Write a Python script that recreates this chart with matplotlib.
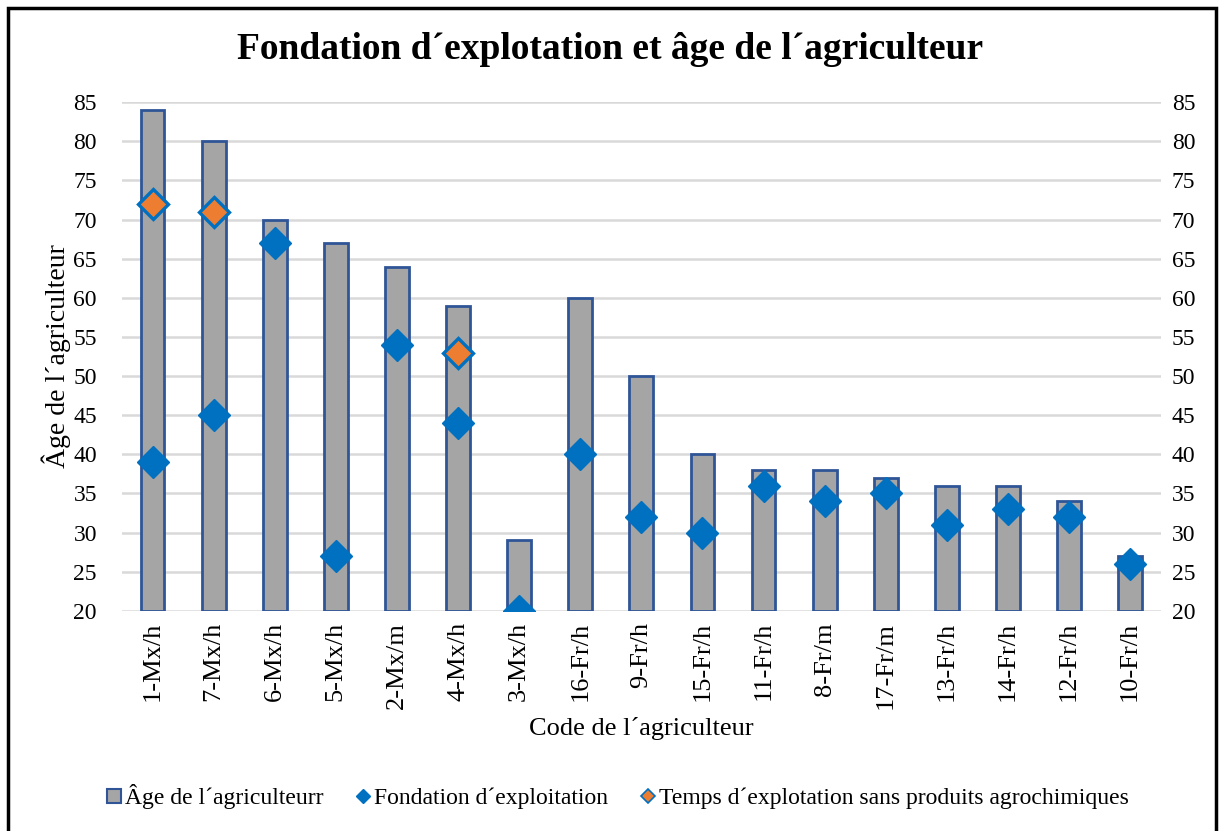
import matplotlib.pyplot as plt
import matplotlib.patches as patches
from matplotlib.lines import Line2D
import numpy as np

plt.rcParams['font.family'] = ['Liberation Serif', 'DejaVu Serif']

# Farmer codes and values
codes = ['1-Mx/h', '7-Mx/h', '6-Mx/h', '5-Mx/h', '2-Mx/m', '4-Mx/h', '3-Mx/h',
         '16-Fr/h', '9-Fr/h', '15-Fr/h', '11-Fr/h', '8-Fr/m', '17-Fr/m',
         '13-Fr/h', '14-Fr/h', '12-Fr/h', '10-Fr/h']
age = [84, 80, 70, 67, 64, 59, 29, 60, 50, 40, 38, 38, 37, 36, 36, 34, 27]
foundation = [39, 45, 67, 27, 54, 44, 20, 40, 32, 30, 36, 34, 35, 31, 33, 32, 26]
# time without agrochemicals, only known for three farms
no_agro_codes = ['1-Mx/h', '7-Mx/h', '4-Mx/h']
no_agro = [72, 71, 53]

yticks = list(range(20, 90, 5))

bar_fill = '#A5A5A5'
bar_edge = '#2F5597'
blue = '#0070C0'
orange = '#ED7D31'

fig = plt.figure(figsize=(12.21, 8.31), dpi=100)
ax = fig.add_axes([0.0999, 0.265, 0.8507, 0.612])

x = np.arange(len(codes))
ax.bar(x, [a - 20 for a in age], bottom=20, width=0.39, color=bar_fill,
       edgecolor=bar_edge, linewidth=2, zorder=2)
ax.plot(x, foundation, 'D', color=blue, markersize=16, linestyle='none', zorder=3)
xo = [codes.index(c) for c in no_agro_codes]
ax.plot(xo, no_agro, 'D', markerfacecolor=orange, markeredgecolor=blue,
        markeredgewidth=2.4, markersize=15, linestyle='none', zorder=4)

ax.set_xlim(-0.5, len(codes) - 0.5)
ax.set_ylim(20, 85)
ax.set_yticks(yticks)
ax.set_xticks(x)
ax.set_xticklabels(codes, rotation=90, fontsize=19)
ax.tick_params(axis='both', length=0)
ax.tick_params(axis='y', labelsize=17, pad=18)
ax.tick_params(axis='x', pad=8)
ax.grid(axis='y', color='#D9D9D9', linewidth=1.8, zorder=0)
ax.set_axisbelow(True)
for s in ax.spines.values():
    s.set_visible(False)

ax2 = ax.twinx()
ax2.set_ylim(20, 85)
ax2.set_yticks(yticks)
ax2.tick_params(axis='y', length=0, labelsize=17, pad=8)
for s in ax2.spines.values():
    s.set_visible(False)

ax.set_ylabel('Âge de l´agriculteur', fontsize=20, labelpad=2)
ax.set_xlabel('Code de l´agriculteur', fontsize=19, labelpad=6)

fig.text(0.5, 0.94, 'Fondation d´explotation et âge de l´agriculteur',
         ha='center', va='center', fontsize=27, fontweight='bold')

handles = [
    Line2D([], [], marker='s', linestyle='none', markerfacecolor=bar_fill,
           markeredgecolor=bar_edge, markeredgewidth=1.5, markersize=10),
    Line2D([], [], marker='D', linestyle='none', color=blue, markersize=7),
    Line2D([], [], marker='D', linestyle='none', markerfacecolor=orange,
           markeredgecolor=blue, markeredgewidth=1.2, markersize=7),
]
labels = ['Âge de l´agriculteurr', 'Fondation d´exploitation',
          'Temps d´explotation sans produits agrochimiques']
fig.legend(handles, labels, loc='center', bbox_to_anchor=(0.506, 0.041),
           ncol=3, frameon=False, fontsize=17, handlelength=0.6,
           handletextpad=0.15, columnspacing=1.4)

# outer frame
top = 1 - 8 / 831
fig.add_artist(patches.Rectangle((8 / 1221, -0.02), 1208 / 1221, top + 0.02,
                                 transform=fig.transFigure, fill=False,
                                 edgecolor='black', linewidth=2.5))

fig.savefig('out.png', dpi=100)
